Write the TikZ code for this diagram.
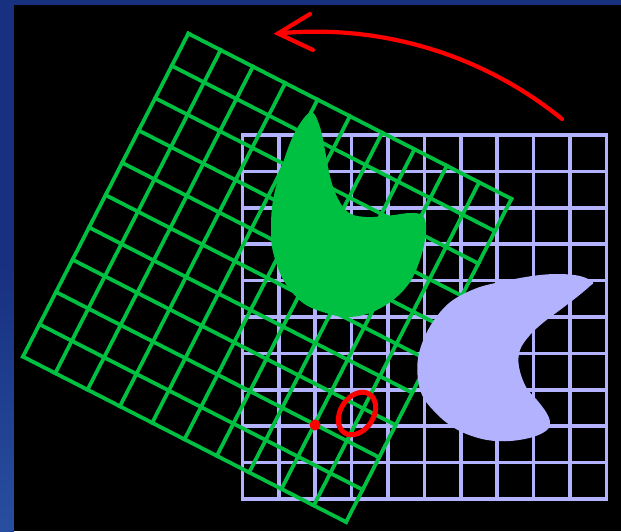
\documentclass[tikz,border=0pt]{standalone}
\definecolor{bgblue}{RGB}{24,48,128}
\definecolor{bgblue2}{RGB}{40,78,160}
\definecolor{lav}{RGB}{178,178,255}
\definecolor{grn}{RGB}{0,192,66}
\definecolor{redc}{RGB}{255,0,0}
\tikzset{
  lavline/.style={draw=lav, line width=3.6pt, line cap=rect},
  grnline/.style={draw=grn, line width=3.8pt, line cap=rect},
  redline/.style={draw=redc, line width=4.2pt, line cap=round},
}
\begin{document}
\begin{tikzpicture}[x=1pt,y=-1pt]
% background
\fill[bgblue] (0,0) rectangle (621,531);
\shade[top color=bgblue, bottom color=bgblue2, middle color=bgblue] (0,0) rectangle (14,531);
\fill[black] (14,5) rectangle (621,531);
\useasboundingbox (0,0) rectangle (621,531);

% lavender (axis-aligned) grid
\begin{scope}[shift={(242.3,135)}]
  \foreach \i in {0,...,10} {
    \draw[lavline] (36.4*\i,0) -- (36.4*\i,364);
    \draw[lavline] (0,36.4*\i) -- (364,36.4*\i);
  }
\end{scope}

% green (rotated) grid
\begin{scope}[shift={(188.3,33.5)}, rotate=-27.1]
  \foreach \i in {0,...,10} {
    \draw[grnline] (36.3*\i,0) -- (36.3*\i,363);
    \draw[grnline] (0,36.3*\i) -- (363,36.3*\i);
  }
\end{scope}

% green blob
\fill[grn] plot[smooth cycle, tension=0.6] coordinates {
 (312,112) (320,127) (325,150) (328,167) (333,187) (341,204) (351,214)
 (366,217) (380,216.5) (394,215) (410,213) (422,215) (426,225) (425,240)
 (420,260) (410,282) (393,300) (370,313) (347,317) (326,313) (303,303)
 (284,281) (273,252) (271,227) (273,200) (280,173) (290,143) (301,122)};

% lavender blob
\fill[lav] plot[smooth cycle, tension=0.6] coordinates {
 (593,282) (580,276) (560,274) (540,275) (520,278) (500,282) (477,288)
 (453,300) (437,316) (425,336) (418,358) (418,380) (423,397) (433,410)
 (447,423) (464,433) (487,440) (510,441) (533,437) (547,430) (550,422)
 (546,412) (537,400) (526,387) (519,367) (520,350) (530,335) (544,322)
 (560,310) (577,297) (590,286)};

% red arrow
\coordinate (arrstart) at (562,119);
\coordinate (arrtip) at (278,33.5);
\coordinate (barbA) at (310,14);
\coordinate (barbB) at (313,50);
\draw[redline] (arrstart) .. controls (482.4,54.3) and (380.1,23.5) .. (arrtip);
\draw[redline] (barbA) -- (arrtip) -- (barbB);

% red ellipse and dot
\coordinate (ellc) at (357,413.5);
\begin{scope}[shift={(ellc)}, rotate=57]
  \draw[draw=redc, line width=5pt] (0,0) ellipse [x radius=23, y radius=16.5];
\end{scope}
\coordinate (dotc) at (315,425);
\fill[redc] (dotc) circle [radius=5.5];
\end{tikzpicture}
\end{document}
